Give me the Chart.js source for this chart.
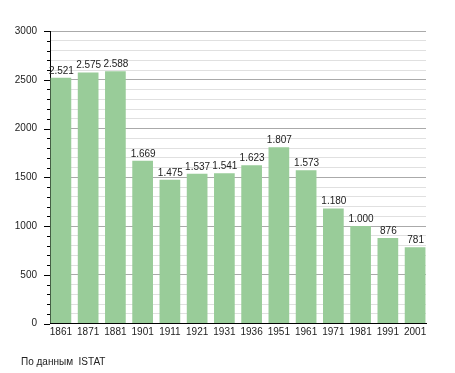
<!DOCTYPE html>
<html>
<head>
<meta charset="utf-8">
<script src="https://cdn.jsdelivr.net/npm/chart.js@4"></script>
<style>
  html,body{margin:0;padding:0;background:#fff;}
  .wrap{position:relative;width:455px;height:373px;}
  .source{position:absolute;left:21px;top:356px;font:10px "Liberation Sans",Arial,sans-serif;color:#222;white-space:pre;}
</style>
</head>
<body>
<div class="wrap">
  <canvas id="chart" width="455" height="373"></canvas>
  <div class="source">По данным  ISTAT</div>
</div>
<script>
/* ======== DATA ======== */
const years = ['1861','1871','1881','1901','1911','1921','1931','1936','1951','1961','1971','1981','1991','2001'];
const population = [2521, 2575, 2588, 1669, 1475, 1537, 1541, 1623, 1807, 1573, 1180, 1000, 876, 781];
const yMax = 3000;
const yMajorStep = 500;
const yMinorStep = 100;

const FONT = '"Liberation Sans", Arial, sans-serif';
const BAR = '#99cc99';

function fmt(v){
  // italian style thousands separator
  return String(v).replace(/\B(?=(\d{3})+(?!\d))/g, '.');
}

/* ======== PLUGINS ======== */
const valueLabels = {
  id:'valueLabels',
  afterDatasetsDraw(chart){
    const ctx = chart.ctx;
    const meta = chart.getDatasetMeta(0);
    ctx.save();
    ctx.font = '10px ' + FONT;
    ctx.fillStyle = '#222';
    ctx.textAlign = 'center';
    ctx.textBaseline = 'alphabetic';
    meta.data.forEach((bar, i)=>{
      ctx.fillText(fmt(population[i]), bar.x + 0.5, bar.y - 4);
    });
    ctx.restore();
  }
};

const yTickMarks = {
  id:'yTickMarks',
  afterDraw(chart){
    const ctx = chart.ctx;
    const y = chart.scales.y;
    const left = chart.chartArea.left;
    ctx.save();
    ctx.strokeStyle = '#000';
    ctx.lineWidth = 1;
    y.ticks.forEach(t=>{
      const py = Math.round(y.getPixelForValue(t.value)) + 0.5;
      const len = t.value % yMajorStep === 0 ? 6 : 3;
      ctx.beginPath();
      ctx.moveTo(left - len, py);
      ctx.lineTo(left, py);
      ctx.stroke();
    });
    ctx.restore();
  }
};

/* ======== CHART ======== */
new Chart(document.getElementById('chart'), {
  type:'bar',
  data:{
    datasets:[{
      data: population.map((v,i)=>({x:i, y:v})),
      backgroundColor: BAR,
      borderWidth: 0,
      barPercentage: 0.76,
      categoryPercentage: 1
    }]
  },
  options:{
    responsive:false,
    animation:false,
    layout:{ padding:{ left:0, right:29, top:31, bottom:0 } },
    plugins:{ legend:{display:false}, tooltip:{enabled:false} },
    scales:{
      x:{
        type:'linear',
        offset:false,
        min:-0.4, max:years.length - 0.6,
        grid:{ display:false, drawTicks:false },
        border:{ display:true, color:'#000', width:1 },
        ticks:{
          stepSize:1, autoSkip:false, includeBounds:false, maxRotation:0,
          padding:3, color:'#222', font:{ family:FONT, size:10 },
          callback:(v)=> Number.isInteger(v) && years[v] ? years[v] : ''
        },
        afterFit(scale){ scale.height = 49.5; }
      },
      y:{
        min:0, max:yMax,
        grid:{
          drawTicks:false,
          color:(c)=> c.tick && c.tick.value % yMajorStep === 0 ? '#aaaaaa' : '#e0e0e0',
          lineWidth:1
        },
        border:{ display:true, color:'#000', width:1 },
        ticks:{
          stepSize:yMinorStep, autoSkip:false, padding:13,
          color:'#222', font:{ family:FONT, size:10 },
          callback:(v)=> v % yMajorStep === 0 ? String(v) : ''
        },
        afterFit(scale){ scale.width = 50; }
      }
    }
  },
  plugins:[valueLabels, yTickMarks]
});
</script>
</body>
</html>
